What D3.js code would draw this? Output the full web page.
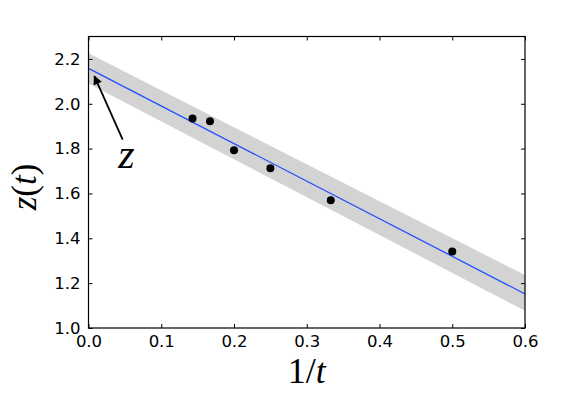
<!DOCTYPE html>
<html>
<head>
<meta charset="utf-8">
<script src="https://cdn.jsdelivr.net/npm/d3@7"></script>
<style>
  body { margin: 0; background: #fff; }
  svg { display: block; }
</style>
</head>
<body>
<div id="chart"></div>
<script>
// Data
const invT = [0.143, 0.167, 0.2, 0.25, 0.333, 0.5];
const zValues = [1.934, 1.922, 1.793, 1.712, 1.570, 1.341];

// Fitted line and its error band at the two ends
const fitX = [0, 0.6];
const fitY = [2.158, 1.152];
const bandUpper = [2.225, 1.236];
const bandLower = [2.090, 1.077];

const xTicks = [0, 0.1, 0.2, 0.3, 0.4, 0.5, 0.6];
const yTicks = [1.0, 1.2, 1.4, 1.6, 1.8, 2.0, 2.2];

// Annotation: arrow tip, arrow tail, text position
const arrowTip = [0.008, 2.123];
const arrowTail = [0.047, 1.840];
const labelPos = [0.052, 1.715];

const width = 581;
const height = 394;
const margin = { top: 36.5, right: 56, bottom: 66, left: 88.5 };

const svg = d3.select('#chart')
  .append('svg')
  .attr('width', width)
  .attr('height', height);

const x = d3.scaleLinear()
  .domain([0, 0.6])
  .range([margin.left, width - margin.right]);

const y = d3.scaleLinear()
  .domain([1.0, 2.3])
  .range([height - margin.bottom, margin.top]);

const plotW = width - margin.right - margin.left;
const plotH = height - margin.bottom - margin.top;

svg.append('defs').append('clipPath')
  .attr('id', 'clip')
  .append('rect')
  .attr('x', margin.left).attr('y', margin.top)
  .attr('width', plotW).attr('height', plotH);

const plot = svg.append('g').attr('clip-path', 'url(#clip)');

// Error band
const band = fitX.map((d, i) => ({ x: d, lo: bandLower[i], hi: bandUpper[i] }));
plot.append('path')
  .datum(band)
  .attr('fill', '#d3d3d3')
  .attr('d', d3.area().x(d => x(d.x)).y0(d => y(d.lo)).y1(d => y(d.hi)));

// Fit line
plot.append('path')
  .datum(fitX.map((d, i) => [d, fitY[i]]))
  .attr('fill', 'none')
  .attr('stroke', '#2050ff')
  .attr('stroke-width', 1.3)
  .attr('d', d3.line().x(d => x(d[0])).y(d => y(d[1])));

// Points
plot.selectAll('circle')
  .data(invT.map((d, i) => [d, zValues[i]]))
  .join('circle')
    .attr('cx', d => x(d[0]))
    .attr('cy', d => y(d[1]))
    .attr('r', 4)
    .attr('fill', '#000');

// Axes, ticks pointing inward on all four sides
const tickFont = '"DejaVu Sans", sans-serif';

svg.append('g')
  .attr('transform', `translate(0,${height - margin.bottom})`)
  .call(d3.axisBottom(x).tickValues(xTicks).tickFormat(d3.format('.1f')).tickSizeInner(-4).tickSizeOuter(0).tickPadding(7));

svg.append('g')
  .attr('transform', `translate(${margin.left},0)`)
  .call(d3.axisLeft(y).tickValues(yTicks).tickFormat(d3.format('.1f')).tickSizeInner(-4).tickSizeOuter(0).tickPadding(8));

svg.append('g')
  .attr('transform', `translate(0,${margin.top})`)
  .call(d3.axisTop(x).tickValues(xTicks).tickFormat('').tickSizeInner(-4).tickSizeOuter(0));

svg.append('g')
  .attr('transform', `translate(${width - margin.right},0)`)
  .call(d3.axisRight(y).tickValues(yTicks).tickFormat('').tickSizeInner(-4).tickSizeOuter(0));

svg.selectAll('.domain').remove();
svg.selectAll('.tick line').attr('stroke', '#000').attr('stroke-width', 1);
svg.selectAll('.tick text')
  .attr('fill', '#000')
  .style('font-family', tickFont)
  .style('font-size', '16.5px');

// Frame
svg.append('rect')
  .attr('x', margin.left).attr('y', margin.top)
  .attr('width', plotW).attr('height', plotH)
  .attr('fill', 'none')
  .attr('stroke', '#000')
  .attr('stroke-width', 1.2);

// Axis labels (math style)
const mathFont = '"Liberation Serif", "Times New Roman", serif';

const xLabel = svg.append('text')
  .attr('x', margin.left + plotW / 2)
  .attr('y', 383)
  .attr('text-anchor', 'middle')
  .style('font-family', mathFont)
  .style('font-size', '36px');
xLabel.append('tspan').text('1/');
xLabel.append('tspan').style('font-style', 'italic').text('t');

const yLabel = svg.append('text')
  .attr('transform', `translate(36,187) rotate(-90)`)
  .attr('text-anchor', 'middle')
  .style('font-family', mathFont)
  .style('font-size', '35px');
yLabel.append('tspan').style('font-style', 'italic').text('z');
yLabel.append('tspan').text('(');
yLabel.append('tspan').style('font-style', 'italic').text('t');
yLabel.append('tspan').text(')');

// Annotation arrow
svg.append('defs').append('marker')
  .attr('id', 'head')
  .attr('viewBox', '0 0 10 10')
  .attr('refX', 9).attr('refY', 5)
  .attr('markerWidth', 11).attr('markerHeight', 9)
  .attr('markerUnits', 'userSpaceOnUse')
  .attr('orient', 'auto')
  .append('path')
  .attr('d', 'M0,0 L10,5 L0,10 Z')
  .attr('fill', '#000');

svg.append('line')
  .attr('x1', x(arrowTail[0])).attr('y1', y(arrowTail[1]))
  .attr('x2', x(arrowTip[0])).attr('y2', y(arrowTip[1]))
  .attr('stroke', '#000')
  .attr('stroke-width', 1.8)
  .attr('marker-end', 'url(#head)');

svg.append('text')
  .attr('x', x(labelPos[0]))
  .attr('y', y(labelPos[1]))
  .attr('text-anchor', 'middle')
  .style('font-family', mathFont)
  .style('font-style', 'italic')
  .style('font-size', '42px')
  .text('z');
</script>
</body>
</html>
